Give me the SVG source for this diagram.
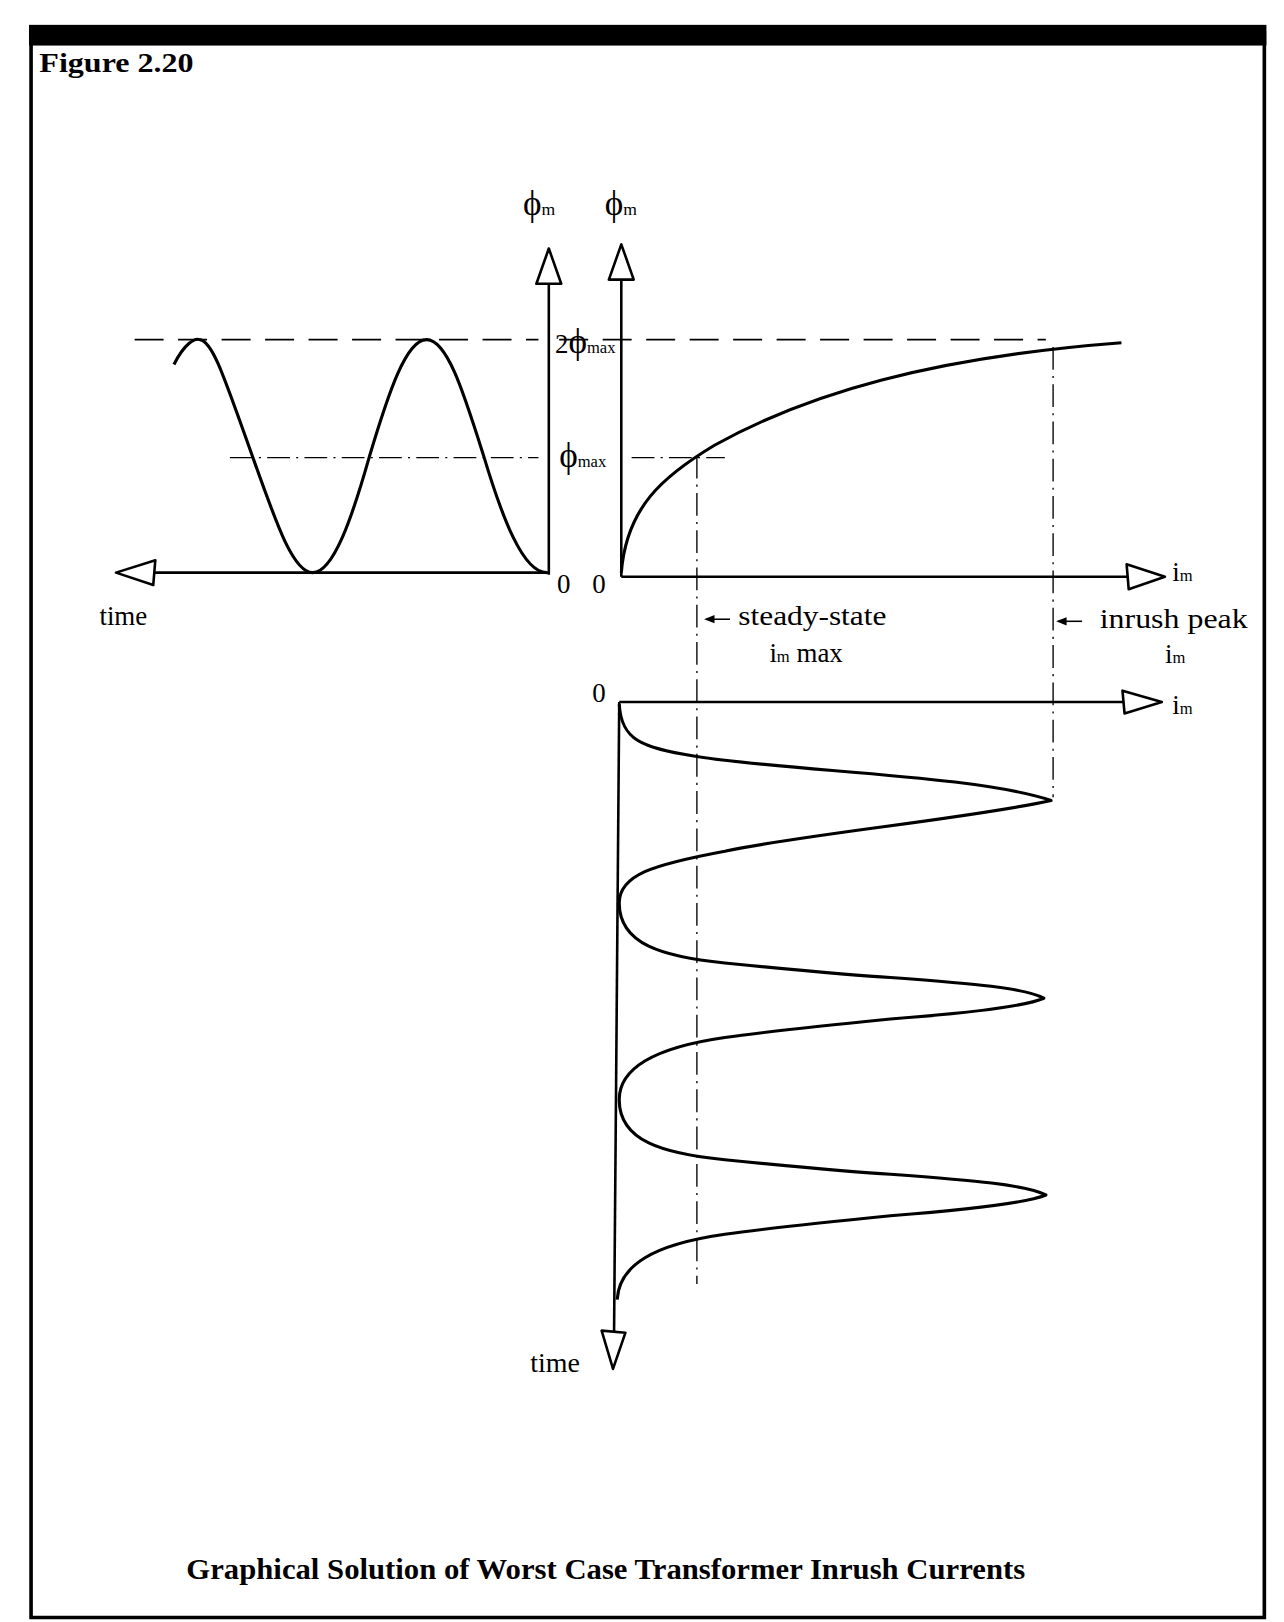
<svg xmlns="http://www.w3.org/2000/svg" width="1284" height="1622" viewBox="0 0 1284 1622">
<style>
.t{font-family:"Liberation Serif",serif;fill:#000}
.ax{stroke:#000;stroke-width:2.5;fill:none}
.cv{stroke:#000;stroke-width:3;fill:none;stroke-linejoin:round}
.dash{stroke:#000;stroke-width:1.5;fill:none;stroke-dasharray:28 14}
.dd{stroke:#000;stroke-width:1.3;fill:none;stroke-dasharray:22 6 2 6}
.hd{fill:#fff;stroke:#000;stroke-width:2.5;stroke-linejoin:round}
</style>
<rect width="1284" height="1622" fill="#fff"/>
<g transform="scale(1.0355)">
<g id="frame">
<rect x="28" y="24" width="1195" height="20" fill="#000"/>
<path d="M30 30 V1562 H1221 V30" stroke="#000" stroke-width="3.5" fill="none"/>
<text class="t" x="38" y="70" font-size="26" font-weight="bold" textLength="149" lengthAdjust="spacingAndGlyphs">Figure 2.20</text>
</g>
<g id="guides">
<path class="dash" d="M130 328 H520 M540 328 H1010"/>
<path class="dd" d="M222 442 H520 M610 442 H700"/>
<path class="dd" d="M673 440 V1240 M1017 335 V770"/>
</g>
<g id="connectors">
<path class="ax" d="M530 555 V272"/>
<path class="hd" d="M530 240 L518 274 L542 274 Z"/>
<path class="ax" d="M530 553 H148"/>
<path class="hd" d="M112 553 L150 541 L148 565 Z"/>
<path class="ax" d="M600 557 V270"/>
<path class="hd" d="M600 236 L588 270 L612 270 Z"/>
<path class="ax" d="M600 557 H1090"/>
<path class="hd" d="M1125 557 L1088 545 L1090 569 Z"/>
<path class="ax" d="M598 678 H1085"/>
<path class="hd" d="M1122 678 L1084 667 L1086 689 Z"/>
<path class="ax" d="M598 678 L593 1288"/>
<path class="hd" d="M592 1322 L581 1285 L604 1287 Z"/>
<path d="M705 598 H682" stroke="#000" stroke-width="1.5"/>
<path d="M680 598 L690 594 L690 602 Z" fill="#000"/>
<path d="M1045 600 H1022" stroke="#000" stroke-width="1.5"/>
<path d="M1020 600 L1030 596 L1030 604 Z" fill="#000"/>
</g>
<g id="sine">
<path class="cv" stroke-width="2.2" d="M168 352 C178 332 188 326 193 328 C205 330 215 360 240 430 C265 500 282 553 302 553 C322 553 340 500 357 440 C375 380 392 328 412 328 C432 328 448 380 467 440 C485 500 505 553 528 553"/>
</g>
<g id="magnetization">
<path class="cv" stroke-width="2.2" d="M600 553 C605 490 640 460 690 430 C780 380 900 345 1083 331"/>
</g>
<g id="inrush">
<path class="cv" d="M598 680 C600 715 620 722 670 730 C760 745 940 748 1015 773 C940 790 780 805 700 822 C630 835 598 845 598 872
C598 912 640 924 700 930 C760 936 820 942 860 944 C940 950 990 954 1008 964 C990 972 940 978 860 984 C800 990 740 996 700 1002 C630 1012 598 1032 598 1062
C598 1102 640 1114 700 1120 C760 1126 820 1132 860 1134 C940 1140 990 1144 1010 1154 C990 1162 940 1168 860 1174 C800 1180 740 1186 700 1192 C630 1202 598 1222 596 1255"/>
</g>
<g id="labels" class="t">
<text x="505" y="208" font-size="34">ϕ<tspan font-size="17">m</tspan></text>
<text x="584" y="208" font-size="34">ϕ<tspan font-size="17">m</tspan></text>
<text x="536" y="341" font-size="26">2<tspan font-size="34">ϕ</tspan><tspan font-size="16">max</tspan></text>
<text x="540" y="451" font-size="34">ϕ<tspan font-size="16">max</tspan></text>
<text x="538" y="573" font-size="26">0</text>
<text x="572" y="573" font-size="26">0</text>
<text x="96" y="604" font-size="26">time</text>
<text x="1132" y="561" font-size="26">i<tspan font-size="16">m</tspan></text>
<text x="713" y="604" font-size="27" textLength="143" lengthAdjust="spacingAndGlyphs">steady-state</text>
<text x="743" y="639" font-size="26">i<tspan font-size="16">m</tspan> max</text>
<text x="1062" y="606" font-size="27" textLength="143" lengthAdjust="spacingAndGlyphs">inrush peak</text>
<text x="1125" y="640" font-size="26">i<tspan font-size="16">m</tspan></text>
<text x="572" y="678" font-size="26">0</text>
<text x="1132" y="690" font-size="26">i<tspan font-size="16">m</tspan></text>
<text x="512" y="1325" font-size="27">time</text>
<text x="180" y="1525" font-size="28" font-weight="bold" textLength="810" lengthAdjust="spacingAndGlyphs">Graphical Solution of Worst Case Transformer Inrush Currents</text>
</g>
</g>
</svg>
